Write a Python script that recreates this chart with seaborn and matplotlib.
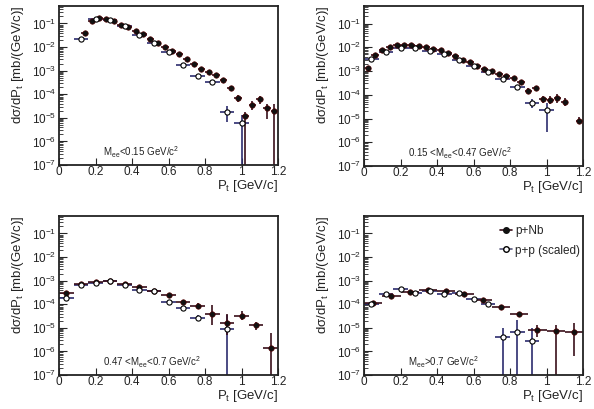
#!/usr/bin/env python3
"""
Transverse momentum spectra of e+e- pairs in four invariant-mass bins,
p+Nb compared with scaled p+p, drawn on log axes in a 2x2 grid.
"""

import numpy as np
import matplotlib
matplotlib.use("Agg")
import matplotlib.pyplot as plt
from matplotlib.lines import Line2D
from matplotlib.ticker import LogLocator, MultipleLocator, NullFormatter
import seaborn as sns
import pandas as pd

# ---- panel 1: M_ee < 0.15 ----
pnb1_x = [0.14, 0.18, 0.22, 0.26, 0.30, 0.34, 0.38, 0.42, 0.46, 0.50, 0.54, 0.58, 0.62, 0.66,
          0.70, 0.74, 0.78, 0.82, 0.86, 0.90, 0.94, 0.98, 1.02, 1.06, 1.10, 1.14, 1.18]
pnb1_y = [0.040, 0.125, 0.17, 0.16, 0.13, 0.09, 0.072, 0.048, 0.037, 0.023, 0.015, 0.010, 0.0068,
          0.005, 0.0031, 0.0019, 0.0012, 0.0009, 0.00065, 0.0004, 0.00018, 7e-5, 1.2e-5, 3.5e-5,
          6e-5, 2.6e-5, 1.9e-5]
pnb1_up = [0.08] * 20 + [0.3, 0.35, 0.5, 0.5, 0.4, 0.5, 1.05]
pnb1_dn = [0.08] * 20 + [0.25, 0.3, 1.0, 0.4, 0.35, 0.65, 1.0]
pp1_x = [0.12, 0.20, 0.28, 0.36, 0.44, 0.52, 0.60, 0.68, 0.76, 0.84, 0.92, 1.00]
pp1_y = [0.023, 0.16, 0.14, 0.075, 0.034, 0.015, 0.0062, 0.0017, 5.7e-4, 3.4e-4, 1.7e-5, 6e-6]
pp1_up = [0.06] * 8 + [0.12, 0.15, 0.95, 1.1]
pp1_dn = [0.06] * 8 + [0.1, 0.12, 0.6, 1.0]

# ---- panel 2: 0.15 < M_ee < 0.47 ----
pnb2_x = [0.02, 0.06, 0.10, 0.14, 0.18, 0.22, 0.26, 0.30, 0.34, 0.38, 0.42, 0.46, 0.50, 0.54,
          0.58, 0.62, 0.66, 0.70, 0.74, 0.78, 0.82, 0.86, 0.90, 0.94, 0.98, 1.02, 1.06, 1.10, 1.18]
pnb2_y = [1.35e-3, 4.9e-3, 7.4e-3, 1.0e-2, 1.25e-2, 1.2e-2, 1.25e-2, 1.1e-2, 1.0e-2, 8.8e-3,
          7.4e-3, 5.8e-3, 4.2e-3, 3.0e-3, 2.3e-3, 1.7e-3, 1.2e-3, 1.0e-3, 7.7e-4, 6.0e-4, 5.0e-4,
          3.3e-4, 1.5e-4, 1.9e-4, 6.5e-5, 6.2e-5, 7.5e-5, 5e-5, 8.2e-6]
pnb2_up = [0.25] + [0.06] * 21 + [0.25, 0.2, 0.35, 0.4, 0.5, 0.4, 0.35]
pnb2_dn = [0.2] + [0.06] * 21 + [0.2, 0.2, 0.3, 0.35, 0.4, 0.35, 0.3]
pp2_x = [0.04, 0.12, 0.20, 0.28, 0.36, 0.44, 0.52, 0.60, 0.68, 0.76, 0.84, 0.92, 1.00]
pp2_y = [3.2e-3, 6.4e-3, 9e-3, 9e-3, 7.2e-3, 5.4e-3, 3.0e-3, 1.6e-3, 8.8e-4, 4.6e-4, 2.2e-4,
         4.4e-5, 2.2e-5]
pp2_up = [0.06] * 10 + [0.12, 0.45, 1.0]
pp2_dn = [0.06] * 10 + [0.12, 0.35, 0.88]

# ---- panel 3: 0.47 < M_ee < 0.7 ----
pnb3_x = [0.04, 0.12, 0.20, 0.28, 0.36, 0.44, 0.52, 0.60, 0.68, 0.76, 0.84, 0.92, 1.00, 1.08, 1.16]
pnb3_y = [2.9e-4, 7.3e-4, 8.5e-4, 1.0e-3, 7.4e-4, 5.6e-4, 3.7e-4, 2.4e-4, 1.2e-4, 8.7e-5,
          3.7e-5, 1.6e-5, 3.3e-5, 1.3e-5, 1.35e-6]
pnb3_up = [0.12, 0.08, 0.08, 0.08, 0.08, 0.08, 0.08, 0.08, 0.2, 0.3, 1.4, 1.3, 0.5, 0.4, 3.5]
pnb3_dn = [0.12, 0.08, 0.08, 0.08, 0.08, 0.08, 0.08, 0.08, 0.18, 0.25, 0.65, 0.7, 0.35, 0.35, 1.0]
pp3_x = [0.04, 0.12, 0.20, 0.28, 0.36, 0.44, 0.52, 0.60, 0.68, 0.76, 0.92]
pp3_y = [1.8e-4, 6.8e-4, 7.7e-4, 9.5e-4, 6.5e-4, 4.0e-4, 3.5e-4, 1.25e-4, 7.2e-5, 2.7e-5, 8.5e-6]
pp3_up = [0.08] * 8 + [0.2, 0.35, 3.0]
pp3_dn = [0.08] * 8 + [0.2, 0.3, 1.0]

# ---- panel 4: M_ee > 0.7 ----
pnb4_x = [0.05, 0.15, 0.25, 0.35, 0.45, 0.55, 0.65, 0.75, 0.85, 0.95, 1.05, 1.15]
pnb4_y = [1.15e-4, 2.2e-4, 3.3e-4, 3.9e-4, 3.6e-4, 2.6e-4, 1.5e-4, 7.4e-5, 3.7e-5, 8.2e-6,
          7.6e-6, 6.4e-6]
pnb4_up = [0.1] * 7 + [0.2, 0.3, 0.6, 0.8, 1.6]
pnb4_dn = [0.1] * 7 + [0.18, 0.25, 0.5, 1.0, 0.9]
pp4_x = [0.04, 0.12, 0.20, 0.28, 0.36, 0.44, 0.52, 0.60, 0.68, 0.76, 0.84, 0.92]
pp4_y = [1.0e-4, 2.8e-4, 4.3e-4, 3.0e-4, 3.5e-4, 2.8e-4, 3.0e-4, 1.6e-4, 1.0e-4, 4.1e-6,
         6.4e-6, 2.9e-6]
pp4_up = [0.1] * 9 + [1.5, 2.4, 2.5]
pp4_dn = [0.1] * 9 + [1.0, 1.0, 1.0]

mass_labels = [
    r"M$_{\mathregular{ee}}$<0.15 GeV/c$^{\mathregular{2}}$",
    r"0.15 <M$_{\mathregular{ee}}$<0.47 GeV/c$^{\mathregular{2}}$",
    r"0.47 <M$_{\mathregular{ee}}$<0.7 GeV/c$^{\mathregular{2}}$",
    r"M$_{\mathregular{ee}}$>0.7 GeV/c$^{\mathregular{2}}$",
]
legend_labels = ["p+Nb", "p+p (scaled)"]

PNB_COLOR = "#111111"
PNB_BAR = "#3a0f1a"
PP_BAR = "#2c2c6e"


def draw_series(ax, x, y, up, dn, half_width, filled):
    """Error bars via matplotlib, markers via seaborn."""
    x = np.array(x)
    y = np.array(y)
    lo = y * np.array(dn)
    hi = y * np.array(up)
    ax.errorbar(x, y, xerr=half_width, yerr=[lo, hi], fmt="none",
                ecolor=PNB_BAR if filled else PP_BAR, elinewidth=1.2, capsize=0, zorder=2)
    df = pd.DataFrame({"x": x, "y": y})
    if filled:
        sns.scatterplot(data=df, x="x", y="y", ax=ax, marker="o", s=16,
                        color=PNB_COLOR, edgecolor="#5a0000", linewidth=0.4, zorder=4)
    else:
        sns.scatterplot(data=df, x="x", y="y", ax=ax, marker="o", s=14,
                        facecolor="white", edgecolor="black", linewidth=0.8, zorder=5)


def style_axes(ax, label):
    ax.set_yscale("log")
    ax.set_xlim(0, 1.2)
    ax.set_ylim(1e-7, 0.55)
    ax.xaxis.set_major_locator(MultipleLocator(0.2))
    ax.xaxis.set_major_formatter(plt.FuncFormatter(lambda v, p: "%g" % round(v, 1)))
    ax.yaxis.set_major_locator(LogLocator(base=10, numticks=12))
    ax.yaxis.set_minor_locator(LogLocator(base=10, subs=np.arange(2, 10), numticks=12))
    ax.yaxis.set_minor_formatter(NullFormatter())
    ax.tick_params(axis="both", which="major", direction="in", labelsize=8.5, pad=2,
                   top=False, right=False, width=0.8, labelcolor="#222222")
    ax.tick_params(axis="x", which="major", pad=1)
    ax.tick_params(axis="y", which="major", length=6)
    ax.tick_params(axis="x", which="major", length=5)
    ax.tick_params(axis="y", which="minor", direction="in", length=3, width=0.6)
    for sp in ax.spines.values():
        sp.set_visible(True)
        sp.set_linewidth(1.3)
        sp.set_color("#222222")
    ax.set_xlabel(r"P$_{\mathregular{t}}$ [GeV/c]", loc="right", fontsize=9.5, labelpad=0,
                  color="#222222")
    ax.set_ylabel(r"dσ/dP$_{\mathregular{t}}$ [mb/(GeV/c)]", loc="top", fontsize=9.5,
                  labelpad=4, color="#222222")
    ax.text(0.2, 0.055, label, transform=ax.transAxes, fontsize=7, color="#222222")


def main():
    sns.set_theme(style="ticks")
    plt.rcParams["font.family"] = ["Liberation Sans", "DejaVu Sans"]
    plt.rcParams["mathtext.fontset"] = "custom"
    plt.rcParams["mathtext.rm"] = "Liberation Sans"
    plt.rcParams["mathtext.it"] = "Liberation Sans:italic"
    plt.rcParams["mathtext.bf"] = "Liberation Sans:bold"

    fig = plt.figure(figsize=(5.94, 4.09), dpi=100)
    boxes = [
        (59 / 594, 1 - 165 / 409, 219 / 594, 159 / 409),
        (364 / 594, 1 - 166 / 409, 219 / 594, 160 / 409),
        (59 / 594, 1 - 375 / 409, 219 / 594, 159 / 409),
        (364 / 594, 1 - 375 / 409, 219 / 594, 159 / 409),
    ]
    panels = [
        (pnb1_x, pnb1_y, pnb1_up, pnb1_dn, 0.02, pp1_x, pp1_y, pp1_up, pp1_dn),
        (pnb2_x, pnb2_y, pnb2_up, pnb2_dn, 0.02, pp2_x, pp2_y, pp2_up, pp2_dn),
        (pnb3_x, pnb3_y, pnb3_up, pnb3_dn, 0.04, pp3_x, pp3_y, pp3_up, pp3_dn),
        (pnb4_x, pnb4_y, pnb4_up, pnb4_dn, 0.05, pp4_x, pp4_y, pp4_up, pp4_dn),
    ]
    axes = []
    for box, pan, label in zip(boxes, panels, mass_labels):
        ax = fig.add_axes(box)
        bx, by, bu, bd, bw, px, py, pu, pd_ = pan
        draw_series(ax, px, py, pu, pd_, 0.04, filled=False)
        draw_series(ax, bx, by, bu, bd, bw, filled=True)
        style_axes(ax, label)
        axes.append(ax)

    handles = [
        Line2D([0], [0], color=PNB_BAR, lw=1.2, marker="o", markersize=4,
               markerfacecolor=PNB_COLOR, markeredgecolor=PNB_COLOR),
        Line2D([0], [0], color="#55557a", lw=1.2, marker="o", markersize=4,
               markerfacecolor="white", markeredgecolor="black"),
    ]
    axes[3].legend(handles, legend_labels, loc="upper left", bbox_to_anchor=(0.6, 0.97),
                   frameon=False, fontsize=8.5, handlelength=1.0, handletextpad=0.3,
                   labelspacing=0.6, borderaxespad=0)

    fig.savefig("out.png", dpi=100)
    plt.close(fig)


if __name__ == "__main__":
    main()
